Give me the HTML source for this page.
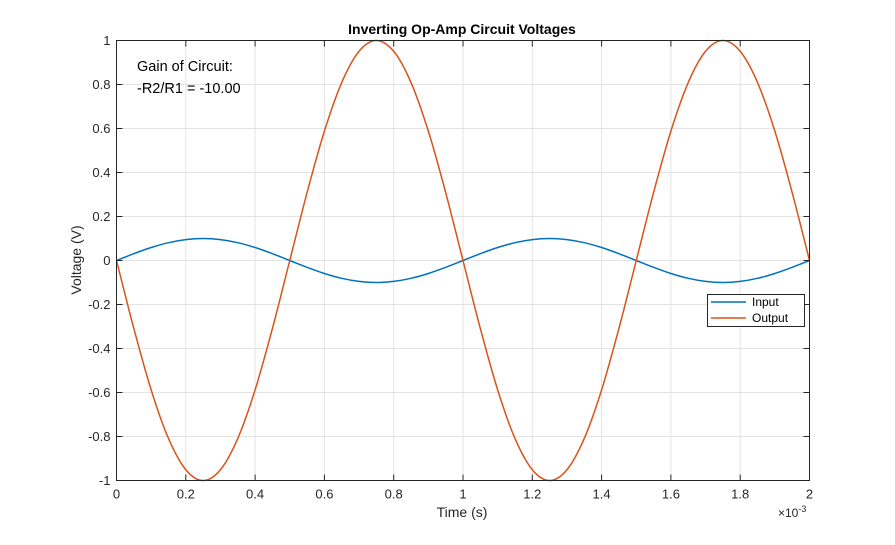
<!DOCTYPE html>
<html><head><meta charset="utf-8">
<style>
body{margin:0;background:#fff;}
svg{font-family:"Liberation Sans",Arial,sans-serif;}
</style></head>
<body>
<svg id="chart" width="895" height="540" viewBox="0 0 895 540" xmlns="http://www.w3.org/2000/svg">
<rect x="0" y="0" width="895" height="540" fill="#fff"/>
<g id="grid"></g>
<g id="series"></g>
<rect x="116.5" y="40.5" width="693" height="440" fill="none" stroke="#262626" stroke-width="1"/>
<g id="ticks" font-size="13" fill="#262626"></g>
<text x="462" y="34" text-anchor="middle" font-size="14" font-weight="bold" fill="#000">Inverting Op-Amp Circuit Voltages</text>
<text x="462" y="517" text-anchor="middle" font-size="14" fill="#262626">Time (s)</text>
<text transform="translate(81,260) rotate(-90)" text-anchor="middle" font-size="14" fill="#262626">Voltage (V)</text>
<text x="778" y="517" font-size="12" fill="#262626">×10<tspan dy="-5" font-size="9">-3</tspan></text>
<text x="137" y="71" font-size="14.5" fill="#000">Gain of Circuit:</text>
<text x="137" y="93" font-size="14.5" fill="#000">-R2/R1 = -10.00</text>
<g>
<rect x="707.5" y="294.5" width="97" height="32" fill="#fff" stroke="#262626" stroke-width="1"/>
<line x1="711" y1="302" x2="746" y2="302" stroke="#0072BD" stroke-width="1.5"/>
<text x="752" y="306" font-size="12" fill="#000">Input</text>
<line x1="711" y1="318" x2="746" y2="318" stroke="#D95319" stroke-width="1.5"/>
<text x="752" y="322" font-size="12" fill="#000">Output</text>
</g>
</svg>
<script>
const timeMs = [0,0.05,0.1,0.15,0.2,0.25,0.3,0.35,0.4,0.45,0.5,0.55,0.6,0.65,0.7,0.75,0.8,0.85,0.9,0.95,1,1.05,1.1,1.15,1.2,1.25,1.3,1.35,1.4,1.45,1.5,1.55,1.6,1.65,1.7,1.75,1.8,1.85,1.9,1.95,2];
const inputV = [0,.031,.059,.081,.095,.1,.095,.081,.059,.031,0,-.031,-.059,-.081,-.095,-.1,-.095,-.081,-.059,-.031,0,.031,.059,.081,.095,.1,.095,.081,.059,.031,0,-.031,-.059,-.081,-.095,-.1,-.095,-.081,-.059,-.031,0];
const outputV = [0,-.309,-.588,-.809,-.951,-1,-.951,-.809,-.588,-.309,0,.309,.588,.809,.951,1,.951,.809,.588,.309,0,-.309,-.588,-.809,-.951,-1,-.951,-.809,-.588,-.309,0,.309,.588,.809,.951,1,.951,.809,.588,.309,0];
const xTicks = [0,0.2,0.4,0.6,0.8,1,1.2,1.4,1.6,1.8,2];
const xTickLabels = ["0","0.2","0.4","0.6","0.8","1","1.2","1.4","1.6","1.8","2"];
const yTicks = [-1,-0.8,-0.6,-0.4,-0.2,0,0.2,0.4,0.6,0.8,1];
const yTickLabels = ["-1","-0.8","-0.6","-0.4","-0.2","0","0.2","0.4","0.6","0.8","1"];

const X0=116.5,X1=809.5,Y0=480.5,Y1=40.5;
const xs = v => X0 + (v-0)/(2-0)*(X1-X0);
const ys = v => Y0 - (v+1)/2*(Y0-Y1);
const NS="http://www.w3.org/2000/svg";
const grid=document.getElementById('grid'), ticks=document.getElementById('ticks'), ser=document.getElementById('series');

function tickLine(x1,y1,x2,y2,name){
  const tk=document.createElementNS(NS,'line');
  tk.setAttribute('x1',x1);tk.setAttribute('x2',x2);tk.setAttribute('y1',y1);tk.setAttribute('y2',y2);
  tk.setAttribute('stroke','#262626');
  
  
  ticks.appendChild(tk);
}

xTicks.forEach((t,i)=>{
  const x=xs(t);
  const l=document.createElementNS(NS,'line');
  l.setAttribute('x1',x);l.setAttribute('x2',x);l.setAttribute('y1',Y1);l.setAttribute('y2',Y0);
  l.setAttribute('stroke','#e3e3e3');l.setAttribute('stroke-width','1');
  
  
  grid.appendChild(l);
  tickLine(x,Y0,x,Y0-6,'x-tick');
  tickLine(x,Y1,x,Y1+6,'x-tick-top');
  const tx=document.createElementNS(NS,'text');
  tx.setAttribute('x',x);tx.setAttribute('y',Y0+18);tx.setAttribute('text-anchor','middle');
  tx.textContent=xTickLabels[i];
  
  
  ticks.appendChild(tx);
});
yTicks.forEach((t,i)=>{
  const y=ys(t);
  const l=document.createElementNS(NS,'line');
  l.setAttribute('x1',X0);l.setAttribute('x2',X1);l.setAttribute('y1',y);l.setAttribute('y2',y);
  l.setAttribute('stroke','#e3e3e3');l.setAttribute('stroke-width','1');
  
  
  grid.appendChild(l);
  tickLine(X0,y,X0+6,y,'y-tick');
  tickLine(X1,y,X1-6,y,'y-tick-right');
  const tx=document.createElementNS(NS,'text');
  tx.setAttribute('x',X0-6);tx.setAttribute('y',y+4.5);tx.setAttribute('text-anchor','end');
  tx.textContent=yTickLabels[i];
  
  
  ticks.appendChild(tx);
});

function smoothPath(xv, yv){
  const p=xv.map((t,i)=>[xs(t),ys(yv[i])]);
  let d='M'+p[0][0]+','+p[0][1];
  for(let i=0;i<p.length-1;i++){
    const p0=p[Math.max(0,i-1)],p1=p[i],p2=p[i+1],p3=p[Math.min(p.length-1,i+2)];
    const c1=[p1[0]+(p2[0]-p0[0])/6,p1[1]+(p2[1]-p0[1])/6];
    const c2=[p2[0]-(p3[0]-p1[0])/6,p2[1]-(p3[1]-p1[1])/6];
    d+=' C'+c1[0]+','+c1[1]+' '+c2[0]+','+c2[1]+' '+p2[0]+','+p2[1];
  }
  return d;
}
const pin=document.createElementNS(NS,'path');
pin.setAttribute('d',smoothPath(timeMs,inputV));
pin.setAttribute('fill','none');pin.setAttribute('stroke','#0072BD');pin.setAttribute('stroke-width','1.5');


ser.appendChild(pin);
const pout=document.createElementNS(NS,'path');
pout.setAttribute('d',smoothPath(timeMs,outputV));
pout.setAttribute('fill','none');pout.setAttribute('stroke','#D95319');pout.setAttribute('stroke-width','1.5');


ser.appendChild(pout);
</script>
</body></html>
